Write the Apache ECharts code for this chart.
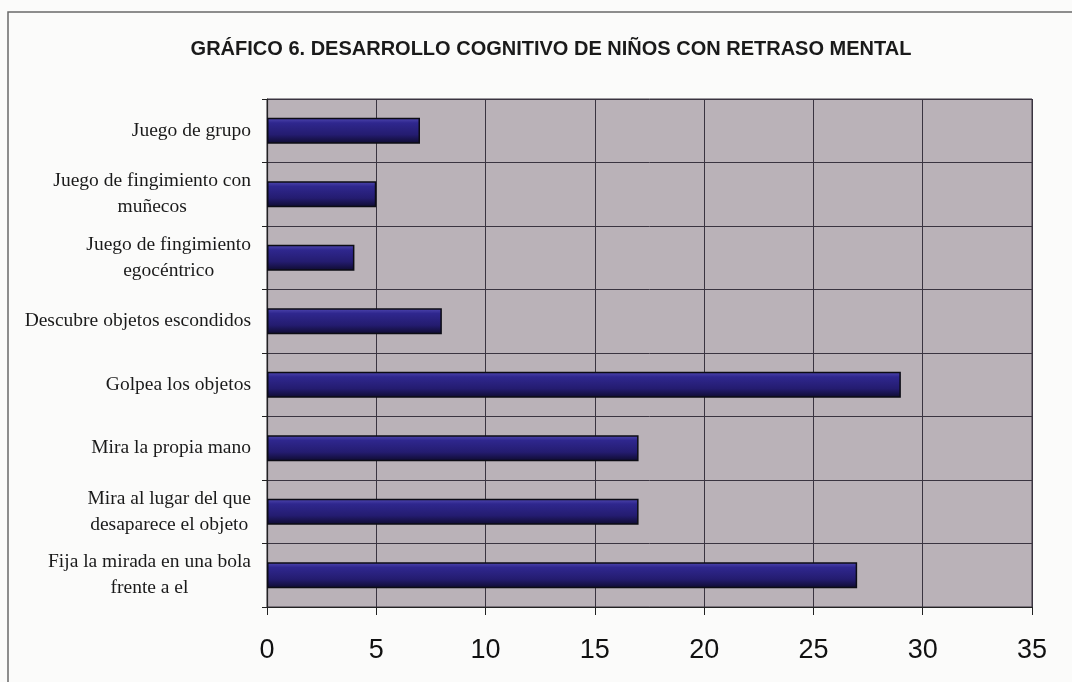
<!DOCTYPE html>
<html>
<head>
<meta charset="utf-8">
<script src="https://cdn.jsdelivr.net/npm/echarts@6/dist/echarts.min.js"></script>
<style>
  html, body { margin: 0; padding: 0; background: #fbfbfa; }
  #chart { width: 1072px; height: 682px; }
</style>
</head>
<body>
<div id="chart"></div>
<script>
// Activities, listed top to bottom
const categories = [
  'Juego de grupo',
  'Juego de fingimiento con\nmuñecos',
  'Juego de fingimiento\negocéntrico',
  'Descubre objetos escondidos',
  'Golpea los objetos',
  'Mira la propia mano',
  'Mira al lugar del que\ndesaparece el objeto',
  'Fija la mirada en una bola\nfrente a el'
];
// Number of children per activity
const values = [7, 5, 4, 8, 29, 17, 17, 27];
const xTicks = { min: 0, max: 35, interval: 5 };
const titleText = 'GRÁFICO 6. DESARROLLO COGNITIVO DE NIÑOS CON RETRASO MENTAL';

const chart = echarts.init(document.getElementById('chart'), null, { renderer: 'canvas' });

chart.setOption({
  backgroundColor: '#fbfbfa',
  animation: false,
  title: {
    text: titleText,
    left: 546,
    textAlign: 'center',
    top: 34,
    textStyle: {
      fontFamily: 'Liberation Sans, Arial, sans-serif',
      fontWeight: 'bold',
      fontSize: 20,
      color: '#1a1a1a'
    }
  },
  graphic: [
    // outer frame of the figure
    {
      type: 'polyline',
      shape: { points: [[8, 700], [8, 12], [1080, 12]] },
      style: { stroke: '#6a6a6a', lineWidth: 1.5, fill: null },
      silent: true
    }
  ],
  grid: {
    left: 267,
    top: 99,
    width: 765,
    height: 508,
    show: true,
    backgroundColor: '#bab2b8',
    borderColor: '#3a3440',
    borderWidth: 1
  },
  xAxis: {
    type: 'value',
    min: xTicks.min,
    max: xTicks.max,
    interval: xTicks.interval,
    axisLine: { show: true, lineStyle: { color: '#222', width: 1.2 } },
    axisTick: { show: true, length: 8, lineStyle: { color: '#222' } },
    splitLine: { show: true, lineStyle: { color: '#3a3440', width: 1 } },
    axisLabel: {
      margin: 30,
      fontFamily: 'Liberation Sans, Arial, sans-serif',
      fontSize: 27,
      color: '#111'
    }
  },
  yAxis: {
    type: 'category',
    inverse: true,
    data: categories,
    axisLine: { show: true, lineStyle: { color: '#222', width: 1.2 } },
    axisTick: { show: true, length: 5, lineStyle: { color: '#222' } },
    splitLine: { show: true, lineStyle: { color: '#3a3440', width: 1 } },
    axisLabel: {
      margin: 16,
      align: 'right',
      formatter: function (v) {
        return v.split('\n').map(function (s) { return '{c|' + s + '}'; }).join('\n');
      },
      rich: {
        c: {
          align: 'center',
          fontFamily: 'Liberation Serif, Times New Roman, serif',
          fontSize: 19.5,
          lineHeight: 26,
          color: '#1a1a1a'
        }
      }
    }
  },
  series: [{
    type: 'bar',
    data: values,
    barWidth: 26,
    itemStyle: {
      color: new echarts.graphic.LinearGradient(0, 0, 0, 1, [
        { offset: 0, color: '#5048b0' },
        { offset: 0.2, color: '#2f278e' },
        { offset: 0.65, color: '#241c70' },
        { offset: 1, color: '#0e0b2e' }
      ]),
      borderColor: '#0c0c14',
      borderWidth: 1.5
    }
  }]
});
</script>
</body>
</html>
